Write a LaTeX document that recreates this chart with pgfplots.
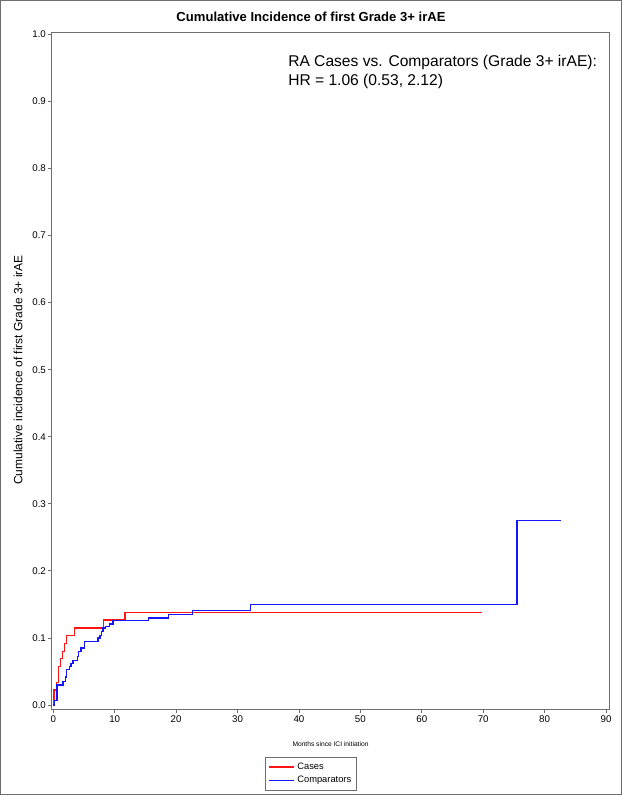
\documentclass[border=0pt]{standalone}
\usepackage{pgfplots}
\pgfplotsset{compat=1.18}
\usepackage{fontspec}
\setmainfont{Liberation Sans}
\definecolor{framegray}{RGB}{110,110,110}
\definecolor{casered}{RGB}{255,20,20}
\definecolor{compblue}{RGB}{20,20,255}
\begin{document}
\begin{tikzpicture}
% 1 px of the reference = 0.75pt; picture is 622 x 795 px
\useasboundingbox (0pt,0pt) rectangle (466.5pt,596.25pt);
\draw[framegray, line width=0.75pt] (0.4pt,0.4pt) rectangle (466.1pt,595.85pt);
\node[font=\bfseries\fontsize{9.8}{12}\selectfont] at (233.25pt,583.5pt) {Cumulative Incidence of first Grade 3+ irAE};
\begin{axis}[
  at={(38.625pt,64.125pt)}, anchor=south west,
  scale only axis, width=418.5pt, height=507.75pt,
  xmin=-0.29, xmax=90.57, ymin=-0.0067, ymax=1.0027,
  xtick={0,10,20,30,40,50,60,70,80,90},
  ytick={0,0.1,0.2,0.3,0.4,0.5,0.6,0.7,0.8,0.9,1.0},
  tick align=outside, tick pos=left, major tick length=3pt,
  axis line style={framegray}, tick style={framegray, line width=0.6pt},
  /pgf/number format/assume math mode=true,
  yticklabel style={inner sep=1pt, /pgf/number format/.cd, fixed, fixed zerofill, precision=1},
  xticklabel style={inner sep=1.5pt},
  tick label style={font=\fontsize{7.3}{9}\selectfont},
  xlabel={Months since ICI initiation},
  xlabel style={font=\fontsize{5}{6}\selectfont, at={(axis description cs:0.5,-0.051)}, anchor=center},
  ylabel={Cumulative incidence of first Grade 3+ irAE},
  ylabel style={font=\fontsize{9}{11}\selectfont, at={(axis description cs:-0.060,0.5015)}, anchor=center},
  legend style={at={(axis description cs:0.465,-0.0702)}, anchor=north, draw=framegray,
    font=\fontsize{7}{8.5}\selectfont, inner sep=2pt},
  legend cell align=left,
  legend image code/.code={\draw[#1] (0pt,0pt) -- (19pt,0pt);},
]
\addplot[const plot, draw=casered, line width=1pt, forget plot] coordinates {
(0,0) (0.1,0.0225) (0.5,0.034) (0.9,0.057) (1.2,0.069) (1.5,0.080)
(1.8,0.092) (2.1,0.1035) (3.5,0.115) (8.2,0.1265) (11.7,0.138) (69.8,0.138)
};
\addplot[const plot, draw=compblue, line width=1pt, forget plot] coordinates {
(0,0) (0.2,0.0065) (0.6,0.030) (1.6,0.035) (2.0,0.042) (2.1,0.053)
(2.6,0.057) (2.9,0.062) (3.2,0.066) (3.9,0.072) (4.1,0.080) (4.5,0.085)
(5.1,0.0946) (7.3,0.0997) (7.6,0.104) (7.9,0.1096) (8.1,0.1146) (8.5,0.117)
(9.2,0.1206) (9.7,0.1256) (15.5,0.1296) (18.8,0.135) (22.7,0.1405)
(32.1,0.1495) (75.5,0.275) (82.7,0.275)
};
\addlegendimage{draw=casered, line width=1pt}
\addlegendentry{Cases}
\addlegendimage{draw=compblue, line width=1pt}
\addlegendentry{Comparators}
\node[anchor=north west, align=left, font=\fontsize{11.7}{14.25}\selectfont, inner sep=0pt]
  at (axis description cs:0.4238,0.9668) {RA Cases vs. Comparators (Grade 3+ irAE):\\HR = 1.06 (0.53, 2.12)};
\end{axis}
\end{tikzpicture}
\end{document}
